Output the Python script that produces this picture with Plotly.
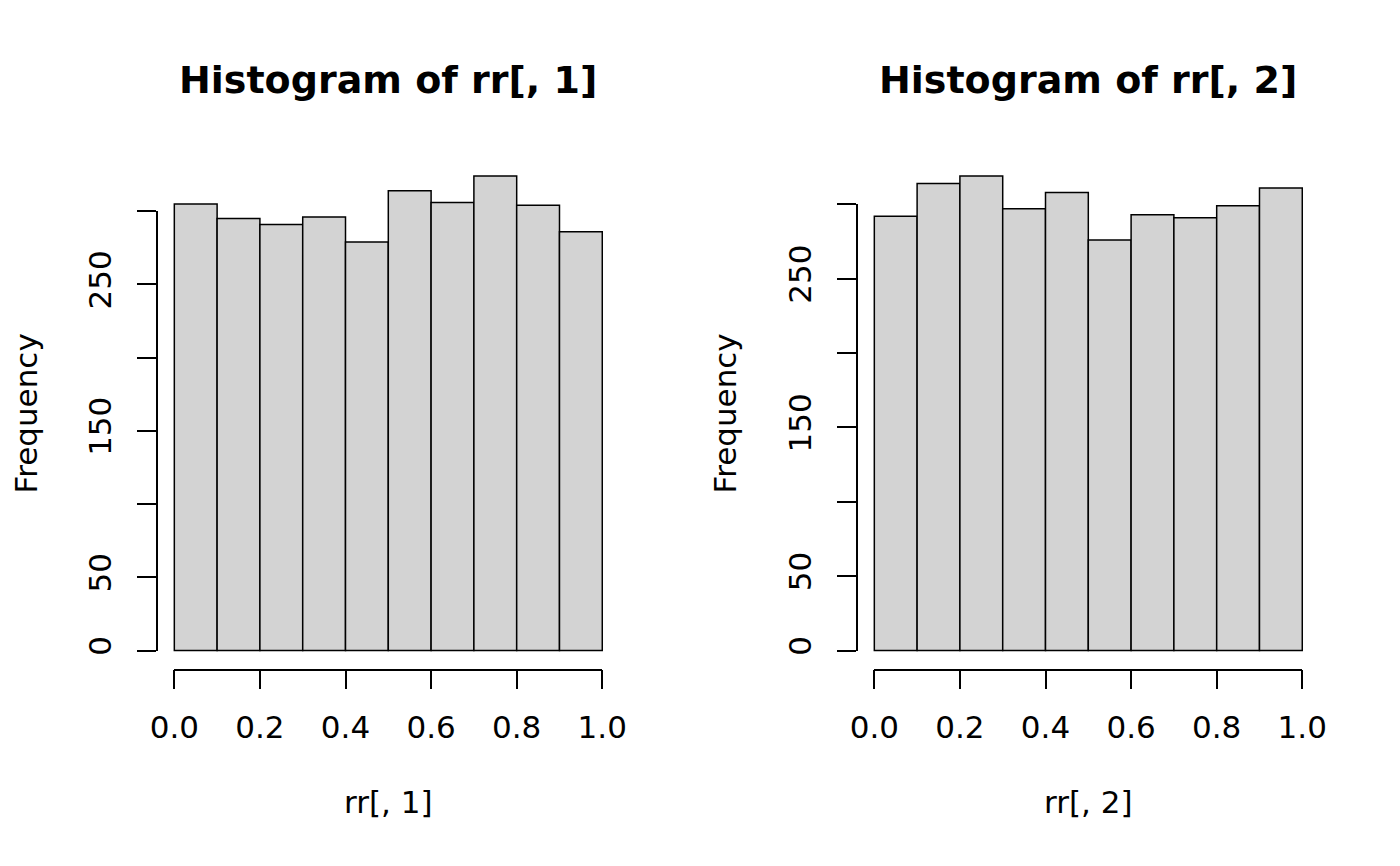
import plotly.graph_objects as go
import numpy as np

# histogram counts (10 bins of width 0.1)
breaks = [0.0, 0.1, 0.2, 0.3, 0.4, 0.5, 0.6, 0.7, 0.8, 0.9, 1.0]
counts_1 = [305, 295, 291, 296, 279, 314, 306, 324, 304, 286]
counts_2 = [292, 314, 319, 297, 308, 276, 293, 291, 299, 311]

x_ticks = [0.0, 0.2, 0.4, 0.6, 0.8, 1.0]
x_tick_labels = ["0.0", "0.2", "0.4", "0.6", "0.8", "1.0"]
y_ticks = [0, 50, 100, 150, 200, 250, 300]
y_tick_labels = ["0", "50", "", "150", "", "250", ""]  # R drops overlapping labels

main_titles = ["Histogram of rr[, 1]", "Histogram of rr[, 2]"]
x_titles = ["rr[, 1]", "rr[, 2]"]
y_title = "Frequency"

# page body has an 8px margin, so the figure is a bit smaller and offset
OFF = 8
W, H = 1400 - OFF, 866 - OFF
FONT = "DejaVu Sans"
FS = 31


def px_x(p):
    return (p - OFF) / W


def px_y(p):
    return 1 - (p - OFF) / H


# plot regions in screen pixels (R style: data range padded by 4%)
panel_left = [157.2, 857.2]
plot_w = 462.2
plot_top, plot_bottom = 157.1, 669.6

fig = go.Figure()
layout = {}

for k, counts in enumerate([counts_1, counts_2]):
    d = k + 1          # data axes: x, x2 / y, y2
    deco = k + 3       # R-style detached axes: x3, x4 / y3, y4
    xr = [-0.04, 1.04]
    ymax = max(counts)
    yr = [-0.04 * ymax, 1.04 * ymax]
    xdom = [px_x(panel_left[k]), px_x(panel_left[k] + plot_w)]
    ydom = [px_y(plot_bottom), px_y(plot_top)]

    def mapx(v):
        return xdom[0] + (v - xr[0]) / (xr[1] - xr[0]) * (xdom[1] - xdom[0])

    def mapy(v):
        return ydom[0] + (v - yr[0]) / (yr[1] - yr[0]) * (ydom[1] - ydom[0])

    centers = [(a + b) / 2 for a, b in zip(breaks[:-1], breaks[1:])]
    widths = [b - a for a, b in zip(breaks[:-1], breaks[1:])]
    sfx = "" if d == 1 else str(d)
    fig.add_trace(go.Bar(
        x=centers, y=counts, width=widths,
        marker=dict(color="#d3d3d3", line=dict(color="black", width=1.5)),
        xaxis="x" + sfx, yaxis="y" + sfx,
        showlegend=False, hoverinfo="skip",
    ))
    # empty trace so the detached axes get drawn
    fig.add_trace(go.Scatter(x=[None], y=[None], mode="markers",
                             xaxis="x%d" % deco, yaxis="y%d" % deco,
                             showlegend=False, hoverinfo="skip"))

    layout["xaxis" + sfx] = dict(visible=False, showgrid=False, zeroline=False,
                                 automargin=False, domain=xdom, range=xr,
                                 anchor="y" + sfx)
    # data y axis only carries the "Frequency" title, centred on the plot region
    layout["yaxis" + sfx] = dict(
        showline=False, showticklabels=False, ticks="", showgrid=False,
        zeroline=False, automargin=False, domain=ydom, range=yr, anchor="x" + sfx,
        title=dict(text=y_title, font=dict(family=FONT, size=FS, color="black"),
                   standoff=110),
    )

    axis_common = dict(showline=True, linecolor="black", linewidth=1.5,
                       ticks="outside", ticklen=19, tickwidth=1.5, tickcolor="black",
                       showgrid=False, zeroline=False, anchor="free", automargin=False,
                       tickfont=dict(family=FONT, size=FS, color="black"))
    layout["xaxis%d" % deco] = dict(
        axis_common, domain=[mapx(0), mapx(1)], range=[0, 1],
        position=ydom[0], tickmode="array", tickvals=x_ticks, ticktext=x_tick_labels,
        ticklabelstandoff=11,
        title=dict(text=x_titles[k], font=dict(family=FONT, size=FS, color="black"),
                   standoff=47),
    )
    layout["yaxis%d" % deco] = dict(
        axis_common, domain=[mapy(0), mapy(300)], range=[0, 300],
        position=xdom[0], tickmode="array", tickvals=y_ticks, ticktext=y_tick_labels,
        tickangle=-90, ticklabelstandoff=14,
    )

    fig.add_annotation(text=main_titles[k], x=(xdom[0] + xdom[1]) / 2, y=px_y(80),
                       xref="paper", yref="paper", xanchor="center", yanchor="middle",
                       showarrow=False,
                       font=dict(family=FONT, size=38, color="black", weight="bold"))

fig.update_layout(**layout)
fig.update_layout(template="none", width=W, height=H,
                  margin=dict(l=0, r=0, t=0, b=0, autoexpand=False),
                  paper_bgcolor="white", plot_bgcolor="rgba(0,0,0,0)",
                  font=dict(family=FONT, color="black"))

fig.write_html("out.html")
